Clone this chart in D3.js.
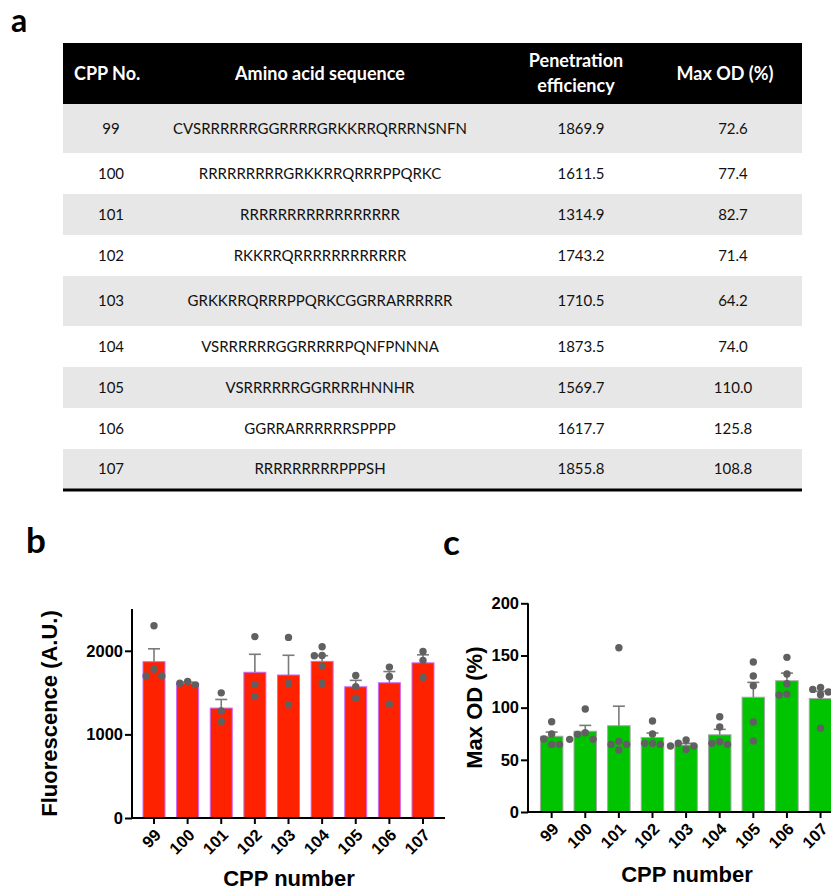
<!DOCTYPE html>
<html>
<head>
<meta charset="utf-8">
<script src="https://cdn.jsdelivr.net/npm/d3@7"></script>
<style>
  body { margin: 0; background: #fff; }
  svg { display: block; }
</style>
</head>
<body>
<div id="figure"></div>
<script>
// ---- data ----
const cppNumbers = ["99", "100", "101", "102", "103", "104", "105", "106", "107"];
const sequences = [
  "CVSRRRRRRGGRRRRGRKKRRQRRRNSNFN",
  "RRRRRRRRRGRKKRRQRRRPPQRKC",
  "RRRRRRRRRRRRRRRRR",
  "RKKRRQRRRRRRRRRRRR",
  "GRKKRRQRRRPPQRKCGGRRARRRRRR",
  "VSRRRRRRGGRRRRRPQNFPNNNA",
  "VSRRRRRRGGRRRRHNNHR",
  "GGRRARRRRRRSPPPP",
  "RRRRRRRRRPPPSH"
];
const penetration = [1869.9, 1611.5, 1314.9, 1743.2, 1710.5, 1873.5, 1569.7, 1617.7, 1855.8];
const maxOD = [72.6, 77.4, 82.7, 71.4, 64.2, 74.0, 110.0, 125.8, 108.8];
const tableHeaders = ["CPP No.", "Amino acid sequence", "Penetration\nefficiency", "Max OD (%)"];

const fluorescenceReps = [
  [2300, 1780, 1700, 1700],
  [1632, 1612, 1593],
  [1497, 1281, 1153],
  [2170, 1596, 1453],
  [2160, 1610, 1353],
  [2048, 1944, 1940, 1820, 1610],
  [1704, 1572, 1432],
  [1805, 1692, 1362],
  [1991, 1884, 1680]
];
const fluorescenceSem = [154, 14, 103, 215, 236, 68, 77, 134, 96];
const maxODReps = [
  [86.5, 74.7, 69.9, 64.8, 64.8],
  [98.7, 76.0, 74.4, 69.6, 69.6],
  [157.4, 67.7, 64.8, 64.8, 59.4],
  [87.2, 74.7, 65.8, 65.8, 64.8],
  [69.0, 66.0, 63.3, 63.3, 60.0],
  [91.3, 81.4, 67.3, 65.8, 64.8],
  [143.7, 130.3, 121.0, 86.2, 68.0],
  [148.2, 132.2, 122.9, 113.0, 112.1],
  [119.4, 117.5, 115.0, 112.4, 80.2]
];
const maxODSem = [4.0, 5.6, 18.7, 4.3, 1.6, 5.2, 14.2, 7.3, 6.8];
const fluorescenceTicks = [0, 1000, 2000];
const maxODTicks = [0, 50, 100, 150, 200];

// ---- layout ----
const W = 831, H = 891;
const svg = d3.select("#figure").append("svg")
  .attr("width", W).attr("height", H)
  .attr("viewBox", `0 0 ${W} ${H}`);

const tableFont = "Lato, 'Open Sans', sans-serif";
const axisFont = "'Liberation Sans', Arial, sans-serif";

function panelLabel(txt, x, y, size) {
  svg.append("text").attr("x", x).attr("y", y).text(txt)
    .style("font-family", tableFont).style("font-weight", 700)
    .style("font-size", size + "px").style("fill", "#000");
}
panelLabel("a", 11, 32, 32);
panelLabel("b", 26, 553, 35);
panelLabel("c", 443, 555, 35);

// ---- table (panel a) ----
function drawTable() {
  const left = 63, right = 802, top = 43, headH = 61;
  const rowH = [49, 41, 41, 41, 50, 41, 41, 41, 40];
  const g = svg.append("g").attr("class", "table");

  g.append("rect").attr("x", left).attr("y", top)
    .attr("width", right - left).attr("height", headH).attr("fill", "#000");

  const headX = [{ x: 74, anchor: "start" }, { x: 320, anchor: "middle" },
    { x: 576, anchor: "middle" }, { x: 725, anchor: "middle" }];
  tableHeaders.forEach((h, i) => {
    const lines = h.split("\n");
    const t = g.append("text")
      .attr("x", headX[i].x).attr("text-anchor", headX[i].anchor)
      .style("font-family", tableFont).style("font-weight", 700)
      .style("font-size", "18px").style("fill", "#fff");
    lines.forEach((ln, k) => {
      t.append("tspan").attr("x", headX[i].x)
        .attr("y", top + headH / 2 + (k - (lines.length - 1) / 2) * 25)
        .attr("dy", "0.36em").text(ln);
    });
  });

  let y = top + headH;
  const colX = [111, 320, 581, 733];
  cppNumbers.forEach((n, i) => {
    const h = rowH[i];
    g.append("rect").attr("x", left).attr("y", y)
      .attr("width", right - left).attr("height", h)
      .attr("fill", i % 2 === 0 ? "#e7e7e7" : "#fff");
    const vals = [n, sequences[i], penetration[i].toFixed(1), maxOD[i].toFixed(1)];
    vals.forEach((v, c) => {
      g.append("text").attr("x", colX[c]).attr("y", y + h / 2)
        .attr("dy", "0.36em").attr("text-anchor", "middle")
        .style("font-family", tableFont).style("font-size", "15px")
        .style("fill", "#111").text(v);
    });
    y += h;
  });
  g.append("line").attr("x1", left).attr("x2", right)
    .attr("y1", y + 1).attr("y2", y + 1)
    .attr("stroke", "#000").attr("stroke-width", 3);
}
drawTable();

// ---- bar chart helper (panels b, c) ----
function swarm(values, yScale, slotW, minDist) {
  const placed = [];
  const slots = [0, -1, 1, -2, 2, -3, 3];
  values.slice().sort((a, b) => b - a).forEach((v) => {
    const py = yScale(v);
    for (const s of slots) {
      const px = s * slotW;
      const hit = placed.some((p) => Math.hypot(p.px - px, p.py - py) < minDist);
      if (!hit) { placed.push({ v, px, py }); break; }
    }
  });
  return placed;
}

function barChart(opt) {
  const g = svg.append("g");
  const x = d3.scaleBand().domain(cppNumbers)
    .range(opt.xRange).paddingInner(opt.padInner).paddingOuter(0);
  const y = d3.scaleLinear().domain(opt.yDomain).range(opt.yRange);

  // bars
  g.selectAll("rect.bar").data(cppNumbers).join("rect")
    .attr("class", "bar")
    .attr("x", (d) => x(d)).attr("width", x.bandwidth())
    .attr("y", (d, i) => y(opt.means[i]))
    .attr("height", (d, i) => y(0) - y(opt.means[i]))
    .attr("fill", opt.fill).attr("stroke", opt.stroke).attr("stroke-width", 1);

  // error bars (upper only)
  const eb = g.selectAll("g.err").data(cppNumbers).join("g").attr("class", "err");
  eb.append("line")
    .attr("x1", (d) => x(d) + x.bandwidth() / 2).attr("x2", (d) => x(d) + x.bandwidth() / 2)
    .attr("y1", (d, i) => y(opt.means[i]))
    .attr("y2", (d, i) => y(opt.means[i] + opt.sem[i]));
  eb.append("line")
    .attr("x1", (d) => x(d) + x.bandwidth() / 2 - 6).attr("x2", (d) => x(d) + x.bandwidth() / 2 + 6)
    .attr("y1", (d, i) => y(opt.means[i] + opt.sem[i]))
    .attr("y2", (d, i) => y(opt.means[i] + opt.sem[i]));
  eb.selectAll("line").attr("stroke", "#7a7a7a").attr("stroke-width", 1.6);

  // replicate dots
  cppNumbers.forEach((c, i) => {
    const cx = x(c) + x.bandwidth() / 2;
    const pts = swarm(opt.reps[i], y, 7.8, 7.2);
    g.selectAll(null).data(pts).join("circle")
      .attr("cx", (p) => cx + p.px).attr("cy", (p) => p.py)
      .attr("r", 3.7).attr("fill", "#606060");
  });

  // y axis
  const ya = g.append("g").attr("transform", `translate(${opt.axisX},0)`)
    .call(d3.axisLeft(y).tickValues(opt.ticks).tickFormat(d3.format("d"))
      .tickSize(7).tickPadding(2));
  ya.select(".domain").attr("d", `M0,${opt.yRange[0]}V${opt.yRange[1]}`);

  // x axis
  const xa = g.append("g").attr("transform", `translate(0,${opt.yRange[0]})`)
    .call(d3.axisBottom(x).tickSize(6).tickSizeOuter(0));
  xa.select(".domain").attr("d", `M${opt.axisX},0H${opt.xAxisEnd}`);
  xa.selectAll("text")
    .attr("x", 0).attr("y", 0).attr("dy", "0.35em")
    .attr("text-anchor", "end")
    .attr("transform", "translate(4,14) rotate(-45)");

  [ya, xa].forEach((a) => {
    a.selectAll("path, line").attr("stroke", "#000").attr("stroke-width", 2);
    a.selectAll("text").style("font-family", axisFont).style("font-weight", 700)
      .style("font-size", "16.5px").attr("fill", "#000");
  });

  // titles
  g.append("text").attr("transform", `translate(${opt.yTitleX},${(opt.yRange[0] + opt.yRange[1]) / 2}) rotate(-90)`)
    .attr("text-anchor", "middle").text(opt.yTitle)
    .style("font-family", axisFont).style("font-weight", 700).style("font-size", "22px");
  g.append("text").attr("x", opt.xTitlePos[0]).attr("y", opt.xTitlePos[1])
    .attr("text-anchor", "middle").text("CPP number")
    .style("font-family", axisFont).style("font-weight", 700).style("font-size", "22px");
}

barChart({
  means: penetration, sem: fluorescenceSem, reps: fluorescenceReps,
  yDomain: [0, 2500], yRange: [818, 609], ticks: fluorescenceTicks,
  xRange: [143, 434], padInner: 0.346, axisX: 132, xAxisEnd: 445,
  fill: "#ff2200", stroke: "#c868ff",
  yTitle: "Fluorescence (A.U.)", yTitleX: 57, xTitlePos: [289, 886]
});

barChart({
  means: maxOD, sem: maxODSem, reps: maxODReps,
  yDomain: [0, 200], yRange: [812, 603.3], ticks: maxODTicks,
  xRange: [540.4, 831.8], padInner: 0.33, axisX: 528, xAxisEnd: 870,
  fill: "#00c400", stroke: "#a8a8a8",
  yTitle: "Max OD (%)", yTitleX: 482, xTitlePos: [687, 882]
});
</script>
</body>
</html>
